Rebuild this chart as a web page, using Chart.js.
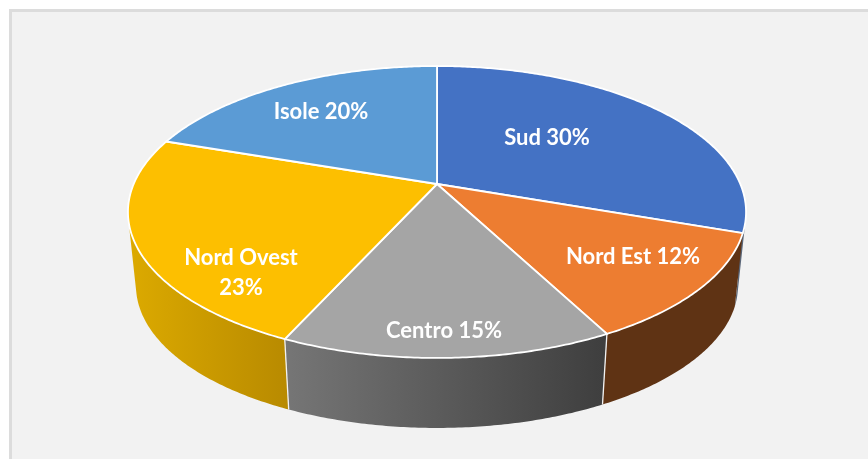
<!DOCTYPE html>
<html>
<head>
<meta charset="utf-8">
<title>Ripartizione per area</title>
<script src="https://cdn.jsdelivr.net/npm/chart.js@4"></script>
<style>
    html, body { margin: 0; height: 100%; background: #fff; overflow: hidden; }
    #frame { position: absolute; left: 9px; top: 9px; right: 0; bottom: 0; background: #f2f2f2;
             border-left: 3px solid #dcdcdc; border-top: 3px solid #dcdcdc; }
    canvas { position: absolute; left: 0; top: 0; }
</style>
</head>
<body>
<div id="frame"></div>
<canvas id="pie3d" width="868" height="459"></canvas>
<script>
const categories = ["Sud", "Nord Est", "Centro", "Nord Ovest", "Isole"];
// estimated from the slice boundaries, the labels show them rounded
const shares = [30.3, 12.0, 14.5, 23.4, 19.8];

const topColors = ["#4472c4", "#ed7d31", "#a5a5a5", "#fdbf00", "#5b9bd5"];
// left and right colour of each slice's side wall
const wallColors = [
    ["#5a6678", "#5a6678"],
    ["#5f3314", "#5f3314"],
    ["#767676", "#3e3e3e"],
    ["#dcaa00", "#b88a00"],
    ["#3f6c95", "#3f6c95"],
];
const labelSpots = [[547, 138], [633, 257], [444, 331], [241, 258], [321, 112]];
const labelBreaks = [false, false, false, true, false];

// Perspective view of the disc, fitted to the picture
const view = { cx: 437, cy: 184, a: 303.3, b: 140.6, p: 0.1918, drop: 74.5, shrink: 0.974 };

// Angle is clockwise from 12 o'clock. Returns a point on the top rim or the bottom rim.
function rimPoint(angle, bottom) {
    const u = Math.sin(angle);
    const v = -Math.cos(angle);
    const w = 1 - view.p * v;
    let x = view.a * u / w;
    let y = view.b * v / w;
    if (bottom) {
        x *= view.shrink;
        y = y * view.shrink + view.drop;
    }
    return [view.cx + x, view.cy + y];
}

function rimPath(start, end, bottom) {
    const pts = [];
    const steps = Math.max(2, Math.ceil((end - start) / 0.01));
    for (let i = 0; i <= steps; i++) {
        pts.push(rimPoint(start + (end - start) * i / steps, bottom));
    }
    return pts;
}

function signedArea(pts) {
    let sum = 0;
    pts.forEach((p, i) => {
        const q = pts[(i + 1) % pts.length];
        sum += p[0] * q[1] - q[0] * p[1];
    });
    return sum;
}

// The strip folds over itself at the silhouette. All quads go in one path with the
// same winding, so the fill is their union and leaves no hole and no seams.
function drawWall(ctx, start, end, colors) {
    const upper = rimPath(start, end, false);
    const lower = rimPath(start, end, true);
    const xs = upper.concat(lower).map(p => p[0]);
    const grad = ctx.createLinearGradient(Math.min(...xs), 0, Math.max(...xs), 0);
    grad.addColorStop(0, colors[0]);
    grad.addColorStop(1, colors[1]);
    ctx.beginPath();
    for (let i = 0; i < upper.length - 1; i++) {
        const quad = [upper[i], upper[i + 1], lower[i + 1], lower[i]];
        if (signedArea(quad) < 0) quad.reverse();
        quad.forEach((p, k) => k ? ctx.lineTo(p[0], p[1]) : ctx.moveTo(p[0], p[1]));
        ctx.closePath();
    }
    ctx.fillStyle = grad;
    ctx.fill("nonzero");
}

const pie3dPlugin = {
    id: "pie3d",
    beforeDatasetsDraw(chart) {
        const ctx = chart.ctx;
        const arcs = chart.getDatasetMeta(0).data;
        const spans = arcs.map(el => [el.startAngle + Math.PI / 2, el.endAngle + Math.PI / 2]);

        ctx.save();
        ctx.lineJoin = "round";

        // side walls first, the top covers whatever is behind it
        spans.forEach((s, i) => drawWall(ctx, s[0], s[1], wallColors[i]));

        // white seams between walls, only where the front of the wall faces us
        ctx.strokeStyle = "#f2f2f2";
        ctx.lineWidth = 1.3;
        spans.forEach(s => {
            if (Math.cos(s[0]) < 0 && Math.abs(Math.sin(s[0])) < 0.9) {
                const a = rimPoint(s[0], false);
                const b = rimPoint(s[0], true);
                ctx.beginPath();
                ctx.moveTo(a[0], a[1]);
                ctx.lineTo(b[0], b[1]);
                ctx.stroke();
            }
        });

        // top of the slices
        spans.forEach((s, i) => {
            ctx.beginPath();
            ctx.moveTo(view.cx, view.cy);
            rimPath(s[0], s[1], false).forEach(p => ctx.lineTo(p[0], p[1]));
            ctx.closePath();
            ctx.fillStyle = arcs[i].options.backgroundColor;
            ctx.fill();
            ctx.strokeStyle = "#ffffff";
            ctx.lineWidth = 1.8;
            ctx.stroke();
        });

        // labels
        ctx.fillStyle = "#ffffff";
        ctx.font = "bold 22px Lato";
        ctx.textAlign = "center";
        ctx.textBaseline = "middle";
        categories.forEach((name, i) => {
            const [x, y] = labelSpots[i];
            const pct = Math.round(shares[i]) + "%";
            if (labelBreaks[i]) {
                ctx.fillText(name, x, y);
                ctx.fillText(pct, x, y + 30);
            } else {
                ctx.fillText(name + " " + pct, x, y);
            }
        });
        ctx.restore();
        return false; // the default flat arcs are not wanted
    },
};

new Chart(document.getElementById("pie3d"), {
    type: "pie",
    data: {
        labels: categories,
        datasets: [{ data: shares, backgroundColor: topColors }],
    },
    options: {
        responsive: false,
        animation: false,
        plugins: { legend: { display: false }, tooltip: { enabled: false } },
    },
    plugins: [pie3dPlugin],
});
</script>
</body>
</html>
